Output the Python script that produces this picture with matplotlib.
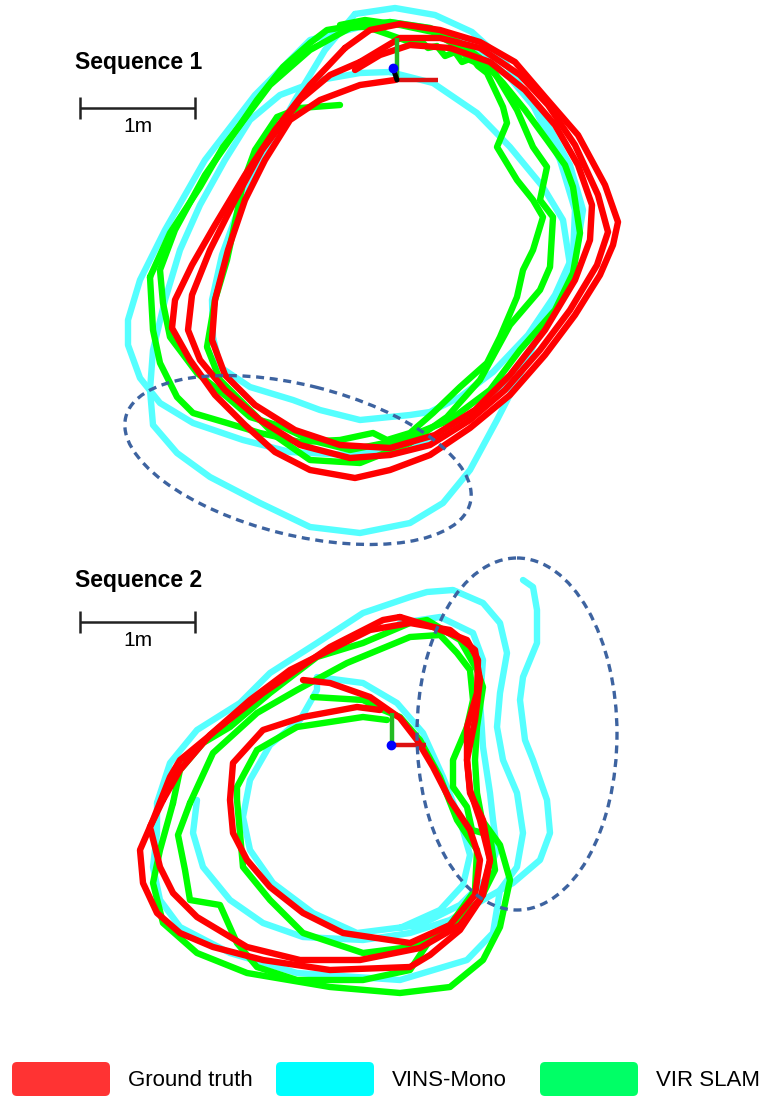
import matplotlib
matplotlib.use("Agg")
import matplotlib.pyplot as plt
from matplotlib.patches import Ellipse, FancyBboxPatch

# Trajectories in map units (115 units = 1 m), y grows downward.
# ---------------- Sequence 1 ----------------
seq1_truth = [
    [(345, 48), (370, 30), (400, 24), (440, 30), (480, 42), (515, 62), (545, 97), (578, 135),
     (605, 185), (618, 222), (613, 245), (600, 275), (575, 315), (545, 355), (510, 395),
     (470, 428), (430, 455), (390, 470), (355, 478), (310, 470), (275, 452), (245, 425),
     (215, 395), (190, 360), (172, 328), (175, 300), (192, 265), (215, 225), (245, 175),
     (275, 130), (310, 85), (345, 48)],
    [(360, 62), (400, 38), (440, 38), (480, 48), (520, 75), (548, 105), (575, 145), (598, 195),
     (608, 232), (597, 265), (570, 310), (540, 350), (505, 390), (470, 420), (430, 445),
     (390, 455), (350, 458), (300, 445), (260, 420), (225, 390), (200, 360), (188, 330),
     (192, 295), (210, 250), (235, 200), (262, 150), (300, 100), (330, 75), (360, 62)],
    [(395, 80), (360, 85), (320, 100), (290, 120), (265, 160), (245, 200), (228, 250),
     (215, 300), (212, 340), (225, 375), (255, 405), (295, 430), (340, 445), (390, 448),
     (435, 435), (475, 410), (510, 375), (545, 330), (575, 280), (590, 240), (592, 205),
     (578, 165), (555, 125), (525, 90), (490, 62), (450, 48), (410, 45), (380, 55), (355, 70)],
]
seq1_vins = [
    [(355, 14), (395, 8), (435, 15), (472, 32), (505, 62), (533, 105), (560, 160), (575, 210),
     (573, 255), (555, 295), (528, 335), (493, 372), (460, 397), (430, 412), (410, 415),
     (360, 420), (320, 410), (293, 400), (250, 387), (220, 367), (213, 337), (212, 300),
     (222, 255), (240, 205), (265, 155), (295, 100), (325, 50), (355, 14)],
    [(390, 72), (433, 83), (477, 113), (510, 147), (543, 187), (563, 220), (570, 265),
     (545, 320), (520, 375), (497, 420), (470, 470), (443, 503), (410, 523), (360, 533),
     (310, 527), (260, 503), (210, 477), (177, 453), (153, 425), (150, 390), (153, 350),
     (165, 300), (180, 250), (200, 205), (225, 160), (250, 120), (280, 95), (320, 80),
     (360, 73), (390, 72)],
    [(360, 27), (310, 40), (255, 95), (205, 160), (165, 230), (140, 280), (128, 320), (128, 345),
     (140, 378), (160, 403), (193, 423), (243, 440), (290, 452), (350, 455), (410, 447),
     (460, 425), (500, 390), (530, 350), (555, 310), (575, 260), (583, 210), (570, 165),
     (545, 120), (510, 78), (470, 45), (430, 28), (390, 22), (360, 27)],
]
seq1_vir = [
    [(150, 277), (153, 330), (160, 363), (177, 397), (193, 413), (227, 423), (260, 433),
     (300, 442), (340, 440), (373, 433), (387, 440), (410, 433), (433, 413), (460, 387),
     (487, 363), (500, 337), (517, 297), (523, 270), (533, 250), (543, 217), (533, 200),
     (517, 180), (497, 147), (507, 123), (503, 107), (487, 73), (478, 66), (472, 58),
     (462, 62), (455, 52), (445, 56), (437, 46), (428, 48), (420, 40), (413, 43), (390, 35),
     (367, 27), (345, 27), (327, 30), (310, 43), (283, 67), (257, 100), (240, 125),
     (223, 147), (200, 187), (185, 210), (170, 233), (160, 255), (150, 277)],
    [(340, 105), (300, 108), (277, 117), (255, 150), (243, 183), (237, 213), (227, 260),
     (215, 300), (207, 347), (220, 380), (243, 403), (277, 437), (310, 460), (360, 463),
     (410, 443), (447, 417), (480, 380), (510, 325), (540, 290), (550, 267), (553, 217),
     (540, 200), (547, 167), (533, 147), (517, 110), (493, 70), (470, 60), (455, 45),
     (433, 32), (400, 25), (365, 20), (340, 25)],
    [(460, 43), (480, 58), (503, 83), (525, 110), (547, 140), (565, 165), (573, 187),
     (580, 233), (573, 273), (555, 310), (520, 350), (490, 390), (450, 420), (400, 440),
     (350, 450), (310, 440), (283, 427), (250, 417), (227, 397), (197, 373), (170, 337),
     (163, 303), (160, 270), (175, 230), (205, 175), (240, 125), (270, 85), (310, 50),
     (350, 28), (390, 22), (430, 28), (460, 43)],
]

# ---------------- Sequence 2 ----------------
seq2_truth = [
    [(400, 617), (433, 627), (467, 640), (478, 660), (477, 693), (467, 727), (467, 760),
     (470, 793), (483, 820), (490, 860), (480, 900), (460, 930), (430, 955), (410, 967),
     (330, 970), (263, 960), (213, 947), (180, 933), (157, 913), (143, 883), (140, 850),
     (153, 820), (170, 777), (180, 760), (220, 727), (263, 693), (330, 647), (383, 620),
     (400, 617)],
    [(163, 800), (150, 827), (160, 867), (173, 893), (197, 917), (247, 947), (300, 960),
     (360, 960), (420, 948), (460, 925), (483, 895), (490, 860), (480, 820), (470, 790),
     (467, 760), (475, 720), (480, 680), (475, 650), (450, 630), (410, 623), (370, 630),
     (330, 650), (290, 670), (250, 700), (210, 735), (180, 770), (163, 800)],
    [(380, 710), (357, 707), (303, 717), (263, 730), (233, 763), (230, 800), (233, 833),
     (247, 860), (270, 887), (303, 913), (343, 933), (410, 943), (450, 925), (475, 895),
     (480, 860), (470, 830), (450, 800), (433, 767), (417, 740), (400, 718), (370, 697),
     (330, 683), (303, 680)],
]
seq2_vins = [
    [(197, 800), (193, 833), (203, 867), (230, 900), (263, 923), (303, 937), (363, 940),
     (410, 933), (450, 920), (483, 900), (513, 883), (540, 860), (550, 833), (547, 800),
     (533, 760), (525, 740), (520, 700), (523, 677), (537, 643), (537, 610), (533, 587),
     (523, 580)],
    [(157, 803), (170, 763), (197, 730), (240, 703), (270, 673), (317, 643), (363, 613),
     (410, 597), (427, 592), (453, 590), (483, 603), (500, 623), (507, 653), (500, 693),
     (497, 727), (503, 760), (517, 793), (523, 833), (517, 867), (500, 890), (493, 933),
     (467, 960), (400, 980), (297, 973), (230, 953), (180, 927), (160, 900), (153, 867),
     (157, 833), (157, 803)],
    [(400, 623), (440, 617), (473, 633), (483, 660), (480, 700), (483, 747), (490, 793),
     (493, 820), (497, 850), (485, 880), (460, 905), (420, 925), (357, 933), (313, 913),
     (273, 883), (250, 850), (243, 817), (250, 780), (270, 745), (300, 720), (317, 690),
     (317, 677), (363, 683), (397, 703), (423, 733), (443, 777), (460, 820), (470, 855),
     (463, 885), (440, 910), (400, 928)],
]
seq2_vir = [
    [(173, 803), (180, 770), (203, 743), (230, 727), (270, 693), (317, 657), (363, 643),
     (410, 623), (427, 620), (460, 640), (477, 670), (483, 687), (477, 727), (475, 760),
     (477, 793), (482, 820), (500, 845), (510, 880), (500, 927), (483, 960), (450, 987),
     (400, 993), (330, 987), (247, 973), (197, 953), (163, 923), (153, 883), (160, 850),
     (173, 803)],
    [(190, 803), (213, 753), (257, 713), (297, 690), (347, 663), (410, 637), (440, 635),
     (457, 653), (470, 670), (473, 700), (467, 727), (453, 760), (453, 787), (467, 807),
     (472, 830), (490, 835), (495, 870), (480, 900), (460, 920), (430, 940), (410, 970),
     (363, 980), (297, 980), (257, 967), (237, 943), (220, 905), (190, 900), (185, 870),
     (178, 835), (190, 803)],
    [(387, 720), (363, 717), (297, 727), (257, 750), (237, 787), (237, 800), (243, 867),
     (270, 900), (303, 933), (363, 953), (410, 947), (450, 925), (475, 890), (477, 850),
     (457, 820), (440, 777), (420, 740), (400, 717), (383, 710), (363, 700), (313, 697)],
]

# Start poses (origin of each map), regions of visible drift and scale bar
seq1_origin = (397, 80)
seq2_origin = (391, 745)
seq1_drift = dict(center=(298, 460), width=355, height=150, angle=14)
seq2_drift = dict(center=(517, 734), width=200, height=352, angle=0)
scale_len = 115  # map units per metre

methods = ["Ground truth", "VINS-Mono", "VIR SLAM"]
line_colors = {"Ground truth": "#ff0000", "VINS-Mono": "#55ffff", "VIR SLAM": "#00ff00"}
legend_colors = {"Ground truth": "#ff3333", "VINS-Mono": "#00ffff", "VIR SLAM": "#00ff66"}

fig = plt.figure(figsize=(7.68, 10.97), dpi=100)
ax = fig.add_axes([0, 0, 1, 1])
ax.set_xlim(0, 768)
ax.set_ylim(1097, 0)
ax.axis("off")

def draw_paths(loops, color, z):
    for loop in loops:
        xs = [p[0] for p in loop]
        ys = [p[1] for p in loop]
        ax.plot(xs, ys, color=color, lw=4.6, solid_joinstyle="round",
                solid_capstyle="round", zorder=z)

for loops_by_method in (
    {"VINS-Mono": seq1_vins, "VIR SLAM": seq1_vir, "Ground truth": seq1_truth},
    {"VINS-Mono": seq2_vins, "VIR SLAM": seq2_vir, "Ground truth": seq2_truth},
):
    for z, name in enumerate(["VINS-Mono", "VIR SLAM", "Ground truth"]):
        draw_paths(loops_by_method[name], line_colors[name], 2 + z)

def draw_frame(origin, up, right):
    ox, oy = origin
    ax.plot([ox, ox], [oy, oy - up], color="#22bb22", lw=3.2, zorder=8, solid_capstyle="butt")
    ax.plot([ox, ox + right], [oy, oy], color="#dd1111", lw=3.2, zorder=8, solid_capstyle="butt")
    ax.plot([ox - 4, ox], [oy - 12, oy], color="black", lw=3.6, zorder=9, solid_capstyle="round")
    ax.plot([ox - 4], [oy - 12], "o", color="#0000ff", ms=6, zorder=10)

draw_frame(seq1_origin, 42, 41)
ax.plot([seq2_origin[0]], [seq2_origin[1]], "o", color="#0000ff", ms=6, zorder=10)
ax.plot([seq2_origin[0] + 1, seq2_origin[0] + 1], [seq2_origin[1], seq2_origin[1] - 32],
        color="#22bb22", lw=3.2, zorder=8, solid_capstyle="butt")
ax.plot([seq2_origin[0] + 1, seq2_origin[0] + 35], [seq2_origin[1], seq2_origin[1]],
        color="#dd1111", lw=3.2, zorder=8, solid_capstyle="butt")

for d in (seq1_drift, seq2_drift):
    ax.add_patch(Ellipse(d["center"], d["width"], d["height"], angle=d["angle"],
                         fill=False, edgecolor="#3d63a0", lw=2.4,
                         linestyle=(0, (2.4, 1.7)), zorder=11))

# Titles and scale bars
for title, ty, by in (("Sequence 1", 63, 108), ("Sequence 2", 581, 622)):
    ax.text(75, ty, title, fontsize=16.5, fontweight="bold", family="Liberation Sans",
            ha="left", va="center", color="black")
    x0 = 80
    ax.plot([x0, x0 + scale_len], [by, by], color="#222222", lw=1.8, solid_capstyle="butt")
    for xe in (x0, x0 + scale_len):
        ax.plot([xe, xe], [by - 11, by + 11], color="#222222", lw=1.8, solid_capstyle="butt")
    ax.text(x0 + scale_len / 2, by + 18, "1m", fontsize=15, family="Liberation Sans",
            ha="center", va="center", color="black")

# Legend
for i, name in enumerate(methods):
    x0 = 12 + i * 264
    ax.add_patch(FancyBboxPatch((x0 + 3, 1065), 92, 28,
                                boxstyle="round,pad=3,rounding_size=5",
                                facecolor=legend_colors[name], edgecolor="none"))
    ax.text(x0 + 116, 1080, name, fontsize=16, family="Liberation Sans",
            ha="left", va="center", color="black")

fig.savefig("out.png", dpi=100)
